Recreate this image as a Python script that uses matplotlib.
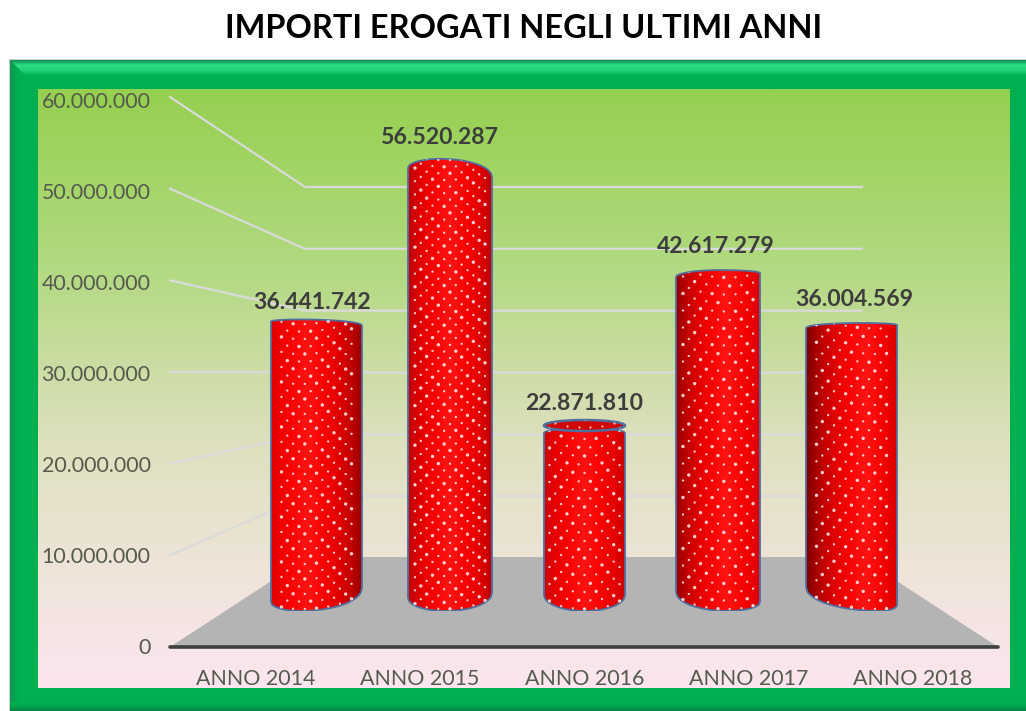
import numpy as np
import matplotlib
matplotlib.use('Agg')
import matplotlib.pyplot as plt
from matplotlib.patches import PathPatch, Rectangle, Polygon, Ellipse
from matplotlib.path import Path
from matplotlib.colors import LinearSegmentedColormap

plt.rcParams['font.family'] = ['Lato', 'DejaVu Sans']

# data
years = ['ANNO 2014', 'ANNO 2015', 'ANNO 2016', 'ANNO 2017', 'ANNO 2018']
amounts = [36441742, 56520287, 22871810, 42617279, 36004569]
y_ticks = [0, 10000000, 20000000, 30000000, 40000000, 50000000, 60000000]

# cylinder layout, pixels
bar_left = [271, 408, 544, 676, 806]
bar_right = [362, 492, 625, 760, 897]
top_x = [300, 440, 585, 720, 860]
top_drop_l = [2, 9, 5, 7, 5]
top_drop_r = [6, 18, 5, 3, 2]
bot_x = [300, 445, 585, 728, 880]
bot_lift_l = [9, 13, 16, 19, 24]
bot_lift_r = [23, 18, 16, 9, 6]
shine = [0.40, 0.50, 0.50, 0.60, 0.65]
shade_l = [0.88, 0.74, 0.80, 0.58, 0.48]
shade_r = [0.60, 0.74, 0.80, 0.85, 0.85]
dot_step = [7.5, 6.6, 8.5, 8.5, 8.5]
label_x = [312, 440, 584, 716, 854]
label_up = [17, 21, 25, 24, 23]
tick_px = [255.5, 420, 585, 749, 913]

W, H = 1026, 711
PX_PER_VAL = 8 / 1e6  # bar height scale
fig = plt.figure(figsize=(W / 100, H / 100), dpi=100, facecolor='white')


def axes_px(l, t, r, b):
    a = fig.add_axes([l / W, 1 - b / H, (r - l) / W, (b - t) / H])
    a.patch.set_alpha(0)
    return a


# background stuff in pixel coords
bg = axes_px(0, 0, W, H)
bg.axis('off')
bg.add_patch(Rectangle((9, 59), W, H, fc='#cfcfcf', ec='none'))
bg.add_patch(Rectangle((10, 60), W, H, fc='#00b050', ec='none'))

side = LinearSegmentedColormap.from_list('side', ['#1c8f5a', '#00a84c', '#00b050'])
bg.imshow(np.linspace(0, 1, 40)[None, :], cmap=side, extent=(10, 20, H, 60), aspect='auto', zorder=1)
low = LinearSegmentedColormap.from_list('low', ['#00b050', '#00a44c', '#0a7f48'])
bg.imshow(np.linspace(0, 1, 40)[:, None], cmap=low, extent=(10, W, H, 702), aspect='auto', zorder=1)
bevel = LinearSegmentedColormap.from_list('bevel', ['#0f8f55', '#2fdf85', '#1fd078', '#00b050'])
top_band = bg.imshow(np.linspace(0, 1, 60)[:, None], cmap=bevel, extent=(10, W, 76, 60), aspect='auto', zorder=1.5)
miter = Polygon([(10, 60), (W, 60), (W, 76), (26, 76)], fc='none', ec='none', zorder=1.5)
bg.add_patch(miter)
top_band.set_clip_path(miter)

wall = LinearSegmentedColormap.from_list('wall', [
    (0, '#95d050'), (0.3, '#b3d982'), (0.6, '#dfe0c0'), (0.8, '#eee4d8'), (1, '#fbe6ef')])
bg.imshow(np.linspace(0, 1, 300)[:, None], cmap=wall, extent=(38, 1010, 688, 89), aspect='auto', zorder=2)

bg.add_patch(Polygon([(170, 647), (998, 647), (860, 557), (308, 557)], fc='#b4b4b4', ec='none', zorder=3))
for v in y_ticks[1:]:
    front = 647 - v * 550 / 60000000
    back = 558 - v * 371 / 60000000
    bg.plot([170, 305, 862], [front, back, back], color='#dadada', lw=1.6, zorder=3)
bg.set_xlim(0, W)
bg.set_ylim(H, 0)

bg.text(524, 29, 'IMPORTI EROGATI NEGLI ULTIMI ANNI', ha='center', va='center',
        fontsize=23.4, fontweight='bold', color='black')

# value axis
ax = axes_px(170, 100, 998, 646.5)
ax.set_xlim(170, 998)
ax.set_ylim(0, 60000000)
ax.set_xticks(tick_px)
ax.set_xticklabels(years)
ax.set_yticks(y_ticks)
ax.set_yticklabels([f'{v:,}'.replace(',', '.') for v in y_ticks])
ax.tick_params(length=0, labelsize=15.4, labelcolor='#555a4c')
ax.tick_params(axis='x', pad=16.4)
ax.tick_params(axis='y', pad=14)
for s in ['top', 'left', 'right']:
    ax.spines[s].set_visible(False)
ax.spines['bottom'].set_color('#3f3f3f')
ax.spines['bottom'].set_linewidth(2.6)
ax.spines['bottom'].set_capstyle('round')

# cylinders, x in pixels, y in euro
bars = axes_px(0, 611 - 480, W, 611)
bars.axis('off')


def arc(xs, xa, xl, xr, drop_l, drop_r):
    # elliptical edge, returns pixels away from the extreme point
    out = []
    for x in xs:
        if x < xa:
            t = (xa - x) / (xa - xl)
            d = drop_l
        else:
            t = (x - xa) / (xr - xa)
            d = drop_r
        out.append(d * (1 - np.sqrt(max(0, 1 - t * t))))
    return np.array(out)


for i, val in enumerate(amounts):
    xl, xr = bar_left[i], bar_right[i]
    xs = np.linspace(xl, xr, 80)
    top = val - arc(xs, top_x[i], xl, xr, top_drop_l[i], top_drop_r[i]) / PX_PER_VAL
    bot = arc(xs, bot_x[i], xl, xr, bot_lift_l[i], bot_lift_r[i]) / PX_PER_VAL
    verts = list(zip(xs, top)) + list(zip(xs[::-1], bot[::-1])) + [(xs[0], top[0])]
    codes = [Path.MOVETO] + [Path.LINETO] * (len(verts) - 2) + [Path.CLOSEPOLY]
    body = PathPatch(Path(verts, codes), fc='none', ec='#4f6f9f', lw=1.3, zorder=5)
    bars.add_patch(body)

    # shading across the cylinder
    u = np.linspace(0, 1, 120)
    r = np.where(u < shine[i],
                 shade_l[i] + (1 - shade_l[i]) * (1 - ((shine[i] - u) / shine[i]) ** 2.2),
                 shade_r[i] + (1 - shade_r[i]) * (1 - ((u - shine[i]) / (1 - shine[i])) ** 2.2))
    gb = 0.07 * np.exp(-((u - shine[i]) / 0.14) ** 2)
    img = np.dstack([r, gb, gb])
    im = bars.imshow(img, extent=(xl, xr, 0, val + 5 / PX_PER_VAL), aspect='auto', zorder=4)
    im.set_clip_path(body)

    # white dots wrapped round the cylinder, rows bend with the base
    cx = (xl + xr) / 2
    rad = (xr - xl) / 2
    theta = np.unique(np.arcsin(np.clip(np.arange(-6, 7) * 6.5 / (1.08 * rad), -1, 1)))
    dx, dy, ds = [], [], []
    for row, py in enumerate(np.arange(2, val * PX_PER_VAL + 30, dot_step[i])):
        for col, th in enumerate(theta[row % 2::2]):
            x = cx + rad * np.sin(th) * 0.97
            bend = arc([x], bot_x[i], xl, xr, bot_lift_l[i], bot_lift_r[i])[0]
            dx.append(x)
            dy.append((py + bend) / PX_PER_VAL)
            ds.append(6 if (row + col) % 3 == 0 else 2.8)
    dots = bars.scatter(dx, dy, s=ds, color='#ffe4e4', linewidths=0, alpha=0.9, zorder=6)
    dots.set_clip_path(body)

    if top_drop_l[i] == top_drop_r[i]:
        # this one is seen from above, open top
        cap = Ellipse((cx, val + 2.5 / PX_PER_VAL), xr - xl, 11 / PX_PER_VAL,
                      fc='#d00808', ec='#4f6f9f', lw=1.8, zorder=7)
        bars.add_patch(cap)
        cap_dots = bars.scatter(dx, np.array(dy) + 3 / PX_PER_VAL, s=2.5, color='#ffb8b8',
                                linewidths=0, zorder=7.5)
        cap_dots.set_clip_path(cap)

    bars.annotate(f'{val:,}'.replace(',', '.'), (label_x[i], val), xytext=(0, label_up[i] * 0.72),
                  textcoords='offset points', ha='center', va='center',
                  fontsize=16.6, fontweight='bold', color='#3d3d3d', zorder=8)

bars.set_xlim(0, W)
bars.set_ylim(0, 60000000)

fig.savefig('out.png', dpi=100)
